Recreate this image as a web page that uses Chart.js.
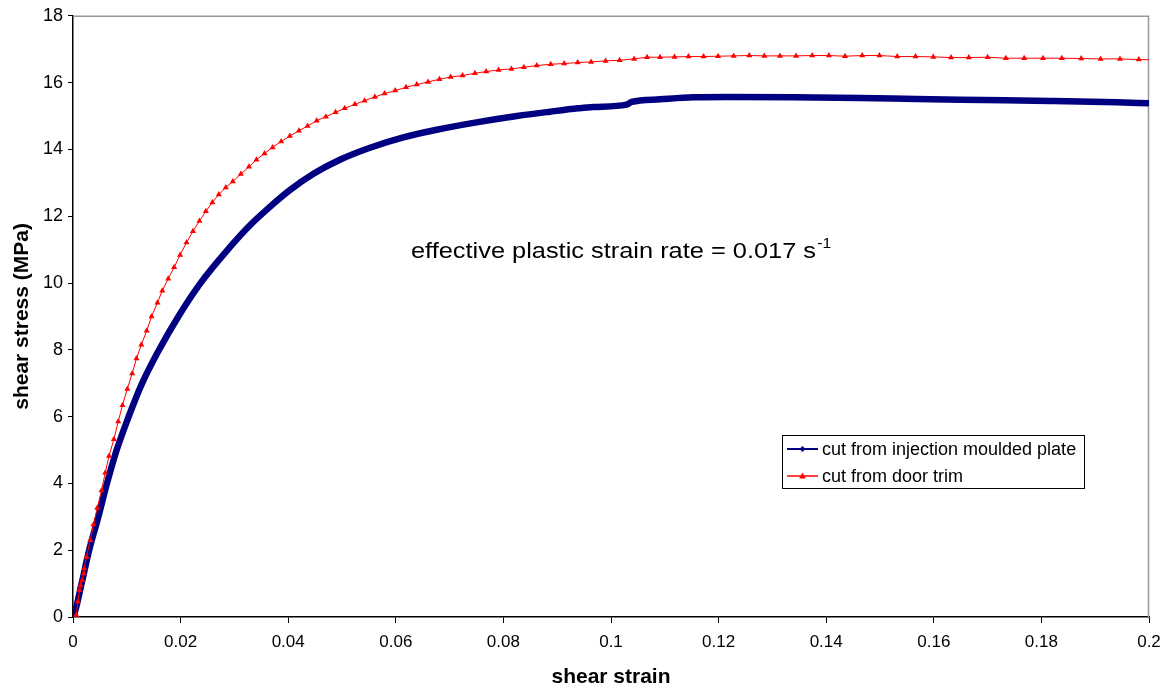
<!DOCTYPE html>
<html><head><meta charset="utf-8">
<script src="https://cdn.jsdelivr.net/npm/chart.js@4/dist/chart.umd.min.js"></script>
<style>html,body{margin:0;padding:0;background:#fff}#wrap{width:1171px;height:693px;position:relative}</style>
</head><body><div id="wrap"><canvas id="c" width="1171" height="693"></canvas></div>
<script>
const xTickLabels = ['0','0.02','0.04','0.06','0.08','0.1','0.12','0.14','0.16','0.18','0.2'];
const yTickLabels = ['0','2','4','6','8','10','12','14','16','18'];
const seriesNames = ['cut from injection moulded plate','cut from door trim'];
const xTitle = 'shear strain';
const yTitle = 'shear stress (MPa)';
const annotationText = 'effective plastic strain rate = 0.017 s';
const annotationSup = '-1';

const plateStrain = [0.0000,0.0002,0.0016,0.0030,0.0047,0.0063,0.0081,0.0103,0.0128,0.0159,0.0199,0.0238,0.0292,0.0329,0.0366,0.0403,0.0447,0.0496,0.0552,0.0614,0.0676,0.0750,0.0825,0.0887,0.0939,0.0967,0.1029,0.1038,0.1091,0.1153,0.1215,0.1339,0.1463,0.1568,0.1692,0.1816,0.1940,0.2000];
const plateStress = [0.00,0.06,1.00,2.00,2.99,3.99,4.99,5.98,6.98,7.97,9.08,10.02,11.08,11.73,12.28,12.78,13.27,13.69,14.05,14.36,14.59,14.81,15.00,15.13,15.23,15.27,15.34,15.42,15.50,15.56,15.57,15.56,15.54,15.51,15.48,15.45,15.41,15.38];

const doorStrain = [0.0006,0.0009,0.0012,0.0014,0.0017,0.0020,0.0021,0.0025,0.0032,0.0038,0.0045,0.0053,0.0060,0.0067,0.0076,0.0084,0.0092,0.0101,0.0110,0.0118,0.0127,0.0137,0.0146,0.0157,0.0166,0.0177,0.0188,0.0199,0.0211,0.0223,0.0235,0.0247,0.0259,0.0271,0.0284,0.0297,0.0312,0.0327,0.0341,0.0356,0.0371,0.0387,0.0403,0.0420,0.0436,0.0453,0.0470,0.0488,0.0505,0.0524,0.0542,0.0561,0.0579,0.0599,0.0619,0.0639,0.0660,0.0681,0.0702,0.0724,0.0747,0.0768,0.0791,0.0815,0.0838,0.0862,0.0888,0.0913,0.0938,0.0963,0.0990,0.1016,0.1043,0.1067,0.1091,0.1118,0.1144,0.1172,0.1199,0.1228,0.1257,0.1285,0.1314,0.1344,0.1374,0.1405,0.1435,0.1467,0.1499,0.1532,0.1566,0.1599,0.1632,0.1665,0.1700,0.1734,0.1768,0.1803,0.1838,0.1874,0.1910,0.1946,0.1981,0.2016];
const doorStress = [0.06,0.46,0.80,0.95,1.10,1.30,1.45,1.80,2.30,2.77,3.26,3.79,4.32,4.82,5.32,5.85,6.34,6.83,7.29,7.74,8.15,8.57,9.00,9.41,9.77,10.13,10.47,10.84,11.21,11.55,11.86,12.15,12.41,12.65,12.86,13.04,13.26,13.48,13.69,13.88,14.06,14.24,14.40,14.56,14.70,14.86,14.98,15.11,15.23,15.35,15.46,15.57,15.67,15.76,15.86,15.94,16.02,16.10,16.17,16.21,16.28,16.33,16.38,16.41,16.46,16.51,16.55,16.57,16.60,16.62,16.65,16.67,16.71,16.76,16.76,16.77,16.78,16.78,16.79,16.80,16.81,16.80,16.80,16.80,16.81,16.81,16.79,16.81,16.81,16.78,16.78,16.77,16.75,16.75,16.76,16.73,16.73,16.73,16.73,16.72,16.71,16.71,16.69,16.68];

const NAVY = '#000080', RED = '#ff0000';

function drawTriangle(ctx, x, y, r, color) {
  ctx.beginPath();
  ctx.moveTo(x, y - r);
  ctx.lineTo(x + r * 0.95, y + r * 0.7);
  ctx.lineTo(x - r * 0.95, y + r * 0.7);
  ctx.closePath();
  ctx.fillStyle = color; ctx.fill();
}

const framePlugin = {
  id: 'frame',
  beforeDatasetsDraw(chart) {
    const {ctx, chartArea: a} = chart;
    ctx.save();
    ctx.strokeStyle = '#999999'; ctx.lineWidth = 1.5;
    ctx.beginPath();
    ctx.moveTo(a.left, a.top + 0.5); ctx.lineTo(a.right, a.top + 0.5);
    ctx.moveTo(a.right - 0.5, a.top); ctx.lineTo(a.right - 0.5, a.bottom);
    ctx.stroke();
    ctx.restore();
  }
};

const annotationPlugin = {
  id: 'annot',
  afterDatasetsDraw(chart) {
    const {ctx} = chart;
    ctx.save();
    ctx.fillStyle = '#000';
    ctx.textBaseline = 'alphabetic';
    ctx.font = '22.5px Arial, "Liberation Sans", sans-serif';
    const w = ctx.measureText(annotationText).width;
    const sx = 405 / w;
    ctx.translate(411, 258);
    ctx.scale(sx, 1);
    ctx.fillText(annotationText, 0, 0);
    ctx.font = '14px Arial, "Liberation Sans", sans-serif';
    ctx.fillText(annotationSup, w + 1, -10);
    ctx.restore();

    // legend
    ctx.save();
    ctx.fillStyle = '#fff';
    ctx.fillRect(782, 435, 302, 53);
    ctx.strokeStyle = '#000'; ctx.lineWidth = 1;
    ctx.strokeRect(782.5, 435.5, 302, 53);
    const rows = [449, 476];
    ctx.strokeStyle = NAVY; ctx.lineWidth = 2;
    ctx.beginPath(); ctx.moveTo(787, rows[0]); ctx.lineTo(818, rows[0]); ctx.stroke();
    ctx.fillStyle = NAVY;
    ctx.beginPath(); ctx.moveTo(802.5, rows[0]-3); ctx.lineTo(805.5, rows[0]); ctx.lineTo(802.5, rows[0]+3); ctx.lineTo(799.5, rows[0]); ctx.closePath(); ctx.fill();
    ctx.strokeStyle = 'rgba(255,0,0,0.75)'; ctx.lineWidth = 2;
    ctx.beginPath(); ctx.moveTo(787, rows[1]); ctx.lineTo(818, rows[1]); ctx.stroke();
    drawTriangle(ctx, 802.5, rows[1], 3.5, RED);
    ctx.fillStyle = '#000';
    ctx.font = '18px Arial, "Liberation Sans", sans-serif';
    ctx.textBaseline = 'middle';
    ctx.fillText(seriesNames[0], 822, rows[0] + 1);
    ctx.fillText(seriesNames[1], 822, rows[1] + 1);
    ctx.restore();
  }
};

const xTickFont = {family: 'Arial, "Liberation Sans", sans-serif', size: 17};
const yTickFont = {family: 'Arial, "Liberation Sans", sans-serif', size: 18};
const titleFont = {family: 'Arial, "Liberation Sans", sans-serif', size: 21, weight: 'bold'};

new Chart(document.getElementById('c').getContext('2d'), {
  type: 'line',
  data: {
    datasets: [
      {
        label: seriesNames[0],
        data: plateStrain.map((x, i) => ({x, y: plateStress[i]})),
        borderColor: NAVY, backgroundColor: NAVY,
        borderWidth: 6.5, pointRadius: 0,
        cubicInterpolationMode: 'monotone',
        order: 2
      },
      {
        label: seriesNames[1],
        data: doorStrain.map((x, i) => ({x, y: doorStress[i]})),
        borderColor: RED, backgroundColor: RED,
        borderWidth: 1, pointStyle: 'triangle', pointRadius: 3.5, pointBorderWidth: 0,
        clip: {left: 6, top: 6, right: 0, bottom: 6},
        order: 1
      }
    ]
  },
  options: {
    responsive: false, animation: false, devicePixelRatio: 1,
    layout: {padding: {left: 0, top: 14, right: 22, bottom: 0}},
    plugins: {legend: {display: false}, tooltip: {enabled: false}},
    scales: {
      x: {
        type: 'linear', min: 0, max: 0.2,
        ticks: {stepSize: 0.02, callback: (v, i) => xTickLabels[i], color: '#000', font: xTickFont, padding: 9, maxRotation: 0, autoSkip: false},
        grid: {drawOnChartArea: false, tickLength: 6, color: '#000', tickColor: '#000', lineWidth: 1},
        border: {color: '#000', width: 1.5},
        title: {display: true, text: xTitle, color: '#000', font: titleFont, padding: {top: 0, bottom: 3}},
        afterFit: s => { s.height = 76; }
      },
      y: {
        type: 'linear', min: 0, max: 18,
        ticks: {stepSize: 2, callback: (v, i) => yTickLabels[i], color: '#000', font: yTickFont, padding: 5},
        grid: {drawOnChartArea: false, tickLength: 5, color: '#000', tickColor: '#000', lineWidth: 1},
        border: {color: '#000', width: 1.5},
        title: {display: true, text: yTitle, color: '#000', font: titleFont, padding: {top: 10, bottom: 0}},
        afterFit: s => { s.width = 73; }
      }
    }
  },
  plugins: [framePlugin, annotationPlugin]
});
</script>
</body></html>
